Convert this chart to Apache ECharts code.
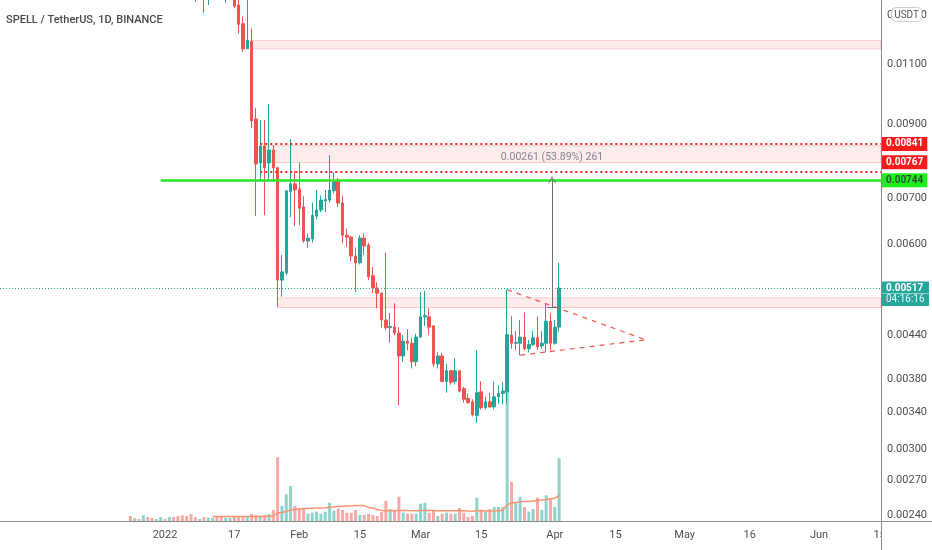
<!DOCTYPE html>
<html><head><meta charset="utf-8">
<script src="https://cdn.jsdelivr.net/npm/echarts@6/dist/echarts.min.js"></script>
<style>html,body{margin:0;padding:0;background:#fff}#c{width:932px;height:550px}</style>
</head><body><div id="c"></div>
<script>
// ---------- data ----------
const dates = [
'2021-12-24','2021-12-25','2021-12-26','2021-12-27','2021-12-28','2021-12-29','2021-12-30','2021-12-31',
'2022-01-01','2022-01-02','2022-01-03','2022-01-04','2022-01-05','2022-01-06','2022-01-07','2022-01-08','2022-01-09','2022-01-10',
'2022-01-11','2022-01-12','2022-01-13','2022-01-14','2022-01-15','2022-01-16','2022-01-17','2022-01-18','2022-01-19','2022-01-20',
'2022-01-21','2022-01-22','2022-01-23','2022-01-24','2022-01-25','2022-01-26','2022-01-27','2022-01-28','2022-01-29','2022-01-30','2022-01-31',
'2022-02-01','2022-02-02','2022-02-03','2022-02-04','2022-02-05','2022-02-06','2022-02-07','2022-02-08','2022-02-09','2022-02-10',
'2022-02-11','2022-02-12','2022-02-13','2022-02-14','2022-02-15','2022-02-16','2022-02-17','2022-02-18','2022-02-19','2022-02-20',
'2022-02-21','2022-02-22','2022-02-23','2022-02-24','2022-02-25','2022-02-26','2022-02-27','2022-02-28',
'2022-03-01','2022-03-02','2022-03-03','2022-03-04','2022-03-05','2022-03-06','2022-03-07','2022-03-08','2022-03-09','2022-03-10',
'2022-03-11','2022-03-12','2022-03-13','2022-03-14','2022-03-15','2022-03-16','2022-03-17','2022-03-18','2022-03-19','2022-03-20',
'2022-03-21','2022-03-22','2022-03-23','2022-03-24','2022-03-25','2022-03-26','2022-03-27','2022-03-28','2022-03-29','2022-03-30','2022-03-31',
'2022-04-01','2022-04-02'];
const open = [
0.0205,0.0196,0.0201,0.0194,0.0203,0.0188,0.0179,0.0183,
0.0188,0.0185,0.0190,0.0181,0.0174,0.0162,0.0155,0.0146,0.0142,0.0147,
0.0141,0.0148,0.0154,0.0149,0.0145,0.0148,0.0150,0.01345,0.01263,0.0116,
0.0119,0.00915,0.00789,0.00835,0.00789,0.00824,0.00776,0.00531,0.00544,0.00716,0.00735,
0.00722,0.0068,0.00606,0.0061,0.00659,0.00673,0.00694,0.00696,0.00718,0.00743,
0.00689,0.00618,0.00614,0.00576,0.00563,0.00612,0.00598,0.00539,0.00517,0.00508,
0.00464,0.00452,0.00453,0.00444,0.00411,0.00432,0.00429,0.00403,
0.00438,0.00469,0.00469,0.00455,0.00400,0.00411,0.00377,0.00391,0.00377,0.00391,
0.00368,0.00356,0.00352,0.00336,0.00364,0.00345,0.00352,0.00346,0.00358,0.00362,
0.00364,0.00441,0.00429,0.00429,0.00438,0.00421,0.00427,0.00437,0.00425,0.00429,0.00462,
0.00429,0.00453];
const close = [
0.0196,0.0201,0.0194,0.0203,0.0188,0.0179,0.0183,0.0188,
0.0185,0.0190,0.0181,0.0174,0.0162,0.0155,0.0146,0.0142,0.0147,0.0141,
0.0148,0.0154,0.0149,0.0145,0.0148,0.0150,0.0134,0.0126,0.0116,0.01193,
0.00909,0.00786,0.00835,0.00776,0.00824,0.00776,0.00531,0.00546,0.00718,0.00735,0.0072,
0.00677,0.00606,0.00612,0.00661,0.00673,0.00696,0.00697,0.0072,0.0074,0.00689,
0.00618,0.00614,0.00576,0.00563,0.00612,0.00596,0.00537,0.00517,0.00508,0.00464,
0.00452,0.00454,0.00444,0.00411,0.00432,0.00429,0.00403,0.00438,
0.00469,0.00471,0.00453,0.00400,0.00411,0.00377,0.00391,0.00376,0.00391,0.00365,
0.00355,0.00351,0.00337,0.00363,0.00345,0.00352,0.00346,0.00358,0.00362,0.00365,
0.00442,0.00429,0.00430,0.00438,0.00421,0.00427,0.00437,0.00424,0.00429,0.00462,0.00429,
0.00453,0.00517];
const low = [
0.0192,0.0193,0.0189,0.0192,0.0184,0.0175,0.0176,0.0180,
0.0181,0.0183,0.0178,0.0171,0.0158,0.0150,0.0141,0.01359,0.0140,0.0131,
0.01345,0.0145,0.0145,0.0140,0.01355,0.0143,0.0133,0.01221,0.01148,0.0116,
0.00888,0.00659,0.00745,0.00661,0.00745,0.0074,0.00485,0.00502,0.0054,0.00657,0.00637,
0.00639,0.00602,0.00592,0.00603,0.00652,0.00668,0.00668,0.0069,0.00712,0.0068,
0.00602,0.00594,0.00566,0.0051,0.0056,0.00578,0.00531,0.00508,0.00483,0.00452,
0.00449,0.0043,0.00441,0.00348,0.00403,0.00419,0.00394,0.00397,
0.00437,0.00455,0.00441,0.00396,0.00394,0.00376,0.00363,0.00373,0.00373,0.00363,
0.00351,0.0035,0.00335,0.00328,0.00343,0.00343,0.00345,0.00343,0.0035,0.00349,
0.0035,0.00421,0.00419,0.00412,0.00419,0.00416,0.00425,0.00419,0.00421,0.00416,0.00419,
0.00427,0.00446];
const high = [
0.0212,0.0206,0.0204,0.0209,0.0205,0.0191,0.0187,0.0194,
0.0190,0.0194,0.0192,0.0185,0.0178,0.0164,0.0158,0.0149,0.0150,0.0151,
0.0152,0.0158,0.0157,0.0152,0.0151,0.0153,0.0152,0.0137,0.01295,0.0140,
0.01243,0.0095,0.00912,0.00912,0.00962,0.00838,0.00779,0.00578,0.0072,0.00855,0.00768,
0.00789,0.00705,0.00622,0.0069,0.0072,0.00707,0.0072,0.0081,0.00765,0.0075,
0.00706,0.00632,0.00616,0.00593,0.00618,0.00622,0.00602,0.00555,0.00527,0.0051,
0.00582,0.00475,0.00491,0.00453,0.00441,0.0045,0.00437,0.00443,
0.0051,0.00512,0.00483,0.00455,0.00416,0.00415,0.0040,0.00392,0.00408,0.00391,
0.0037,0.00362,0.00355,0.00419,0.00377,0.00358,0.00363,0.00377,0.00372,0.00376,
0.00514,0.0047,0.00447,0.00464,0.00476,0.00434,0.00447,0.00469,0.00447,0.00491,0.00475,
0.00464,0.00563];
const volume = [
500,270,200,570,400,300,200,400,
200,400,400,500,570,500,700,400,200,400,330,330,400,400,330,330,400,400,400,400,700,570,500,570,700,1100,6370,1500,2670,3500,1500,
1230,1230,730,830,930,730,930,1830,1030,1230,1100,830,830,1100,600,600,700,600,500,900,2030,1200,1030,2430,830,730,730,730,
1730,1830,830,1030,500,730,830,730,730,1300,830,400,500,2330,1100,930,1200,1400,1400,1400,13000,3900,1770,2430,1400,930,1200,2330,1100,2570,2170,
1400,6270];
const volumeMA = [
null,null,null,null,null,null,null,null,
null,null,null,null,null,null,null,null,null,null,null,
440,440,440,440,440,440,440,440,445,450,455,460,465,470,
500,800,850,960,1100,1150,
1200,1250,1260,1280,1300,1300,1320,1380,1410,1450,1480,1500,1520,1550,1560,1540,1360,1310,1140,1050,1030,1040,1030,1060,1060,1040,1030,1020,
1040,1050,1050,1040,1030,1030,1030,1020,1020,1030,1030,990,980,1030,1040,1010,1000,1020,1050,1060,1640,1800,1860,1920,1950,1960,2000,2080,2100,2140,2220,
2280,2550];
const yTickValues = [0.0024,0.0027,0.0030,0.0034,0.0038,0.0044,0.0060,0.0070,0.0090,0.0110,0.0130];
const xTickDates = ['2022-01-01','2022-01-17','2022-02-01','2022-02-15','2022-03-01','2022-03-15','2022-04-01','2022-04-15','2022-05-01','2022-05-16','2022-06-01','2022-06-15'];
const xTickLabels = ['2022','17','Feb','15','Mar','15','Apr','15','May','16','Jun','15'];
// drawn levels / zones / pattern
const zoneStart = ['2022-01-21','2022-01-23','2022-01-27'];
const zoneLow   = [0.01160,0.00790,0.00484];
const zoneHigh  = [0.01193,0.00836,0.00500];
const redLevels = [0.00841,0.00767];
const greenLevel = 0.00744;
const lastPrice = 0.00517;
const triangleUpper = [['2022-03-21',0.00514],['2022-04-22',0.00434]];
const triangleLower = [['2022-03-24',0.00412],['2022-04-22',0.00434]];
const measureFrom = 0.004843, measureTo = 0.007453;

// ---------- chart ----------
const FONT = "Roboto,'DejaVu Sans',sans-serif";
const UP = '#26a69a', DOWN = '#ef5350';
const dayOf = s => (Date.parse(s) - Date.parse('2022-01-01')) / 864e5;
const X = dates.map(dayOf);
const X_MIN = -38.1, X_MAX = 165.32;
const Y_MIN = 0.002353, Y_MAX = 0.01368;
const xTickDays = xTickDates.map(dayOf);
const measureX = dayOf('2022-03-31') + 0.36;

const candleData = X.map((x, i) => [x, open[i], close[i], low[i], high[i]]);
const volData = X.map((x, i) => ({value: [x, volume[i]],
  itemStyle: {color: close[i] >= open[i] ? 'rgba(38,166,154,0.5)' : 'rgba(239,83,80,0.5)'}}));
const maData = X.map((x, i) => [x, volumeMA[i]]).filter(d => d[1] != null);

function boxLabel(text, bg, fg, shiftUp) {
  return {show: true, position: 'end', distance: 1,
    formatter: shiftUp ? '{b|' + text + '}\n{s| }' : '{b|' + text + '}',
    rich: {b: {backgroundColor: bg, color: fg, fontSize: 10, fontWeight: 'bold', fontFamily: FONT,
               padding: [2, 4, 2, 4], lineHeight: 12},
           s: {fontSize: 1, lineHeight: 18, height: 18}}};
}

const markLines = [
  [{coord: [X_MIN, lastPrice], lineStyle: {color: UP, type: [1, 2], width: 1},
    label: {show: true, position: 'end', distance: 1,
     formatter: '{s| }\n{a|' + lastPrice.toFixed(5) + '}\n{c|04:16:16}',
     rich: {s: {fontSize: 1, lineHeight: 12, height: 12},
            a: {backgroundColor: UP, color: '#fff', fontSize: 10, fontWeight: 'bold', fontFamily: FONT, padding: [2, 4, 0, 4], width: 39, lineHeight: 12},
            c: {backgroundColor: UP, color: '#e8f6f4', fontSize: 10, fontFamily: FONT, padding: [0, 4, 2, 4], width: 39, lineHeight: 13}}}},
   {coord: [X_MAX, lastPrice]}],
  [{coord: [dayOf('2022-01-23'), redLevels[0]], lineStyle: {color: '#ff2020', type: [2, 3], width: 2},
    label: boxLabel(redLevels[0].toFixed(5), '#f71c1c', '#fff', false)}, {coord: [X_MAX, redLevels[0]]}],
  [{coord: [dayOf('2022-01-23'), redLevels[1]], lineStyle: {color: '#ff2020', type: [2, 3], width: 2},
    label: boxLabel(redLevels[1].toFixed(5), '#f71c1c', '#fff', true)}, {coord: [X_MAX, redLevels[1]]}],
  [{coord: [dayOf('2021-12-31'), greenLevel], lineStyle: {color: '#27e627', type: 'solid', width: 2.5},
    label: boxLabel(greenLevel.toFixed(5), '#1ef01e', '#2d4f2d', false)}, {coord: [X_MAX, greenLevel]}],
  [{coord: [dayOf(triangleUpper[0][0]), triangleUpper[0][1]], lineStyle: {color: '#f05450', type: [5, 5], width: 1.2}},
   {coord: [dayOf(triangleUpper[1][0]), triangleUpper[1][1]]}],
  [{coord: [dayOf(triangleLower[0][0]), triangleLower[0][1]], lineStyle: {color: '#f05450', type: [5, 5], width: 1.2}},
   {coord: [dayOf(triangleLower[1][0]), triangleLower[1][1]]}],
  [{coord: [measureX, measureFrom], lineStyle: {color: '#6f6f6f', type: 'solid', width: 1}},
   {coord: [measureX, measureTo], symbol: 'path://M0,8L4,0L8,8L7,8L4,2L1,8Z', symbolSize: [8, 7]}],
  [{coord: [measureX - 1.15, measureFrom], lineStyle: {color: '#6f6f6f', type: 'solid', width: 1}},
   {coord: [measureX + 1.15, measureFrom]}]
];

const option = {
  animation: false,
  backgroundColor: '#fff',
  textStyle: {fontFamily: FONT},
  title: [
    {text: 'SPELL / TetherUS, 1D, BINANCE', left: 1, top: 10,
     textStyle: {fontSize: 11, fontWeight: 500, color: '#4a4a4a', fontFamily: FONT}},
    {text: 'USDT', right: 10, top: 7, padding: [3, 3, 2, 3], backgroundColor: '#fff',
     borderColor: '#cfcfcf', borderWidth: 1, borderRadius: 4,
     textStyle: {fontSize: 10, fontWeight: 'normal', color: '#555', fontFamily: FONT}}
  ],
  grid: [{left: 0, right: 51, top: 0, bottom: 29}, {left: 0, right: 51, top: 361, bottom: 29}],
  xAxis: [
    {type: 'value', gridIndex: 0, min: X_MIN, max: X_MAX, show: false},
    {type: 'value', gridIndex: 1, min: X_MIN, max: X_MAX,
     axisLine: {show: true, onZero: false, lineStyle: {color: '#8a8a8a'}},
     axisTick: {show: false}, splitLine: {show: false},
     axisLabel: {customValues: xTickDays, color: '#4f4f4f', fontSize: 11, margin: 9,
       formatter: v => { let k = 0; xTickDays.forEach((d, i) => { if (Math.abs(d - v) < Math.abs(xTickDays[k] - v)) k = i; }); return xTickLabels[k]; }}}
  ],
  yAxis: [
    {type: 'log', gridIndex: 0, min: Y_MIN, max: Y_MAX, show: false},
    {type: 'value', gridIndex: 0, position: 'right', min: Math.log10(Y_MIN), max: Math.log10(Y_MAX),
     axisLine: {show: true, onZero: false, lineStyle: {color: '#8a8a8a'}},
     axisTick: {show: false}, splitLine: {show: false},
     axisLabel: {customValues: yTickValues.map(Math.log10), color: '#4f4f4f', fontSize: 11, margin: 6,
       formatter: v => Math.pow(10, v).toFixed(5)}},
    {type: 'value', gridIndex: 1, min: 0, max: 16000, show: false}
  ],
  series: [
    {type: 'bar', name: 'Volume', xAxisIndex: 1, yAxisIndex: 2, barWidth: 3, data: volData, z: 1, silent: true},
    {type: 'line', name: 'Volume MA', xAxisIndex: 1, yAxisIndex: 2, data: maData, showSymbol: false, symbol: 'none',
     lineStyle: {color: '#f7946f', width: 1.5}, z: 2, silent: true},
    {type: 'candlestick', name: 'SPELL/USDT', xAxisIndex: 0, yAxisIndex: 0, barWidth: 3, clip: true, z: 3,
     data: candleData,
     itemStyle: {color: UP, color0: DOWN, borderColor: UP, borderColor0: DOWN, borderWidth: 1},
     markArea: {silent: true, label: {show: false},
       itemStyle: {color: 'rgba(242,54,69,0.1)', borderColor: 'rgba(242,54,69,0.22)', borderWidth: 1},
       data: zoneStart.map((s, i) => [{coord: [dayOf(s), zoneLow[i]]}, {coord: [X_MAX, zoneHigh[i]]}])},
     markLine: {silent: true, symbol: ['none', 'none'], label: {show: false}, data: markLines},
     markPoint: {silent: true,
       data: [{coord: [measureX, 0.00805], symbol: 'circle', symbolSize: 1, itemStyle: {color: 'rgba(0,0,0,0)'},
         label: {show: true, position: 'inside', color: '#83868f', fontSize: 10.5, fontFamily: FONT,
           formatter: (measureTo - measureFrom).toFixed(5) + ' (' + ((measureTo / measureFrom - 1) * 100).toFixed(2) + '%) 261'}}]}}
  ],
  graphic: [
    {type: 'rect', z: 100, shape: {x: 881.5, y: 522, width: 51, height: 28}, style: {fill: '#fff'}},
    {type: 'line', z: 101, shape: {x1: 881.5, y1: 521, x2: 881.5, y2: 550}, style: {stroke: '#8a8a8a', lineWidth: 1}},
    {type: 'line', z: 101, shape: {x1: 881, y1: 521.5, x2: 932, y2: 521.5}, style: {stroke: '#8a8a8a', lineWidth: 1}}
  ]
};
const chart = echarts.init(document.getElementById('c'));
chart.setOption(option);
</script>
</body></html>
